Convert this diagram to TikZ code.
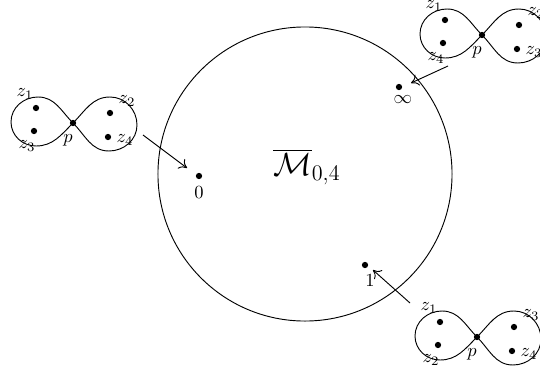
\documentclass[tikz,border=0pt]{standalone}
\usetikzlibrary{calc,arrows.meta}
\tikzset{
  pt/.style={circle,fill=black,inner sep=0pt,minimum size=3.4pt},
  lab/.style={inner sep=0pt},
  loop8/.style={line width=0.5pt},
  pointer/.style={-{To[length=4pt,width=6.5pt]},line width=0.5pt},
}
\newcommand\eightfig[6]{%
  \begin{scope}[shift={#2}]
    \node[pt] (#1p) at (0,0) {};
    \draw[loop8] (0,0) to[out=135,in=0] (-35,-26) to[out=180,in=90] (-62,-1)
      to[out=-90,in=180] (-37,23) to[out=0,in=-135] (0,0)
      to[out=45,in=180] (37,-26) to[out=0,in=90] (64,2)
      to[out=-90,in=0] (36,28) to[out=180,in=-45] (0,0);
    \node[pt] (#1d1) at (-37,-15) {};
    \node[pt] (#1d2) at (-39,8) {};
    \node[pt] (#1d3) at (37,-10) {};
    \node[pt] (#1d4) at (35,14) {};
    \node[lab] (#1l1) at (-48,-29) {$#3$};
    \node[lab] (#1l2) at (-46,23) {$#4$};
    \node[lab] (#1lp) at (-5,17) {$p$};
    \node[lab] (#1l3) at (54,-22) {$#5$};
    \node[lab] (#1l4) at (52,17) {$#6$};
  \end{scope}}
\begin{document}
\begin{tikzpicture}[x=0.54pt,y=-0.54pt]
\clip (0,0) rectangle (540,371);
\node[circle,draw,line width=0.5pt,minimum size=158.8pt,inner sep=0pt] (M) at (305,174) {};
\node[lab] (Mlab) at (307,167) {\LARGE$\overline{\mathcal{M}}_{0,4}$};
% points on the moduli space
\node[pt] (P0) at (199,176) {};
\node[lab] (L0) at (199,193) {$0$};
\node[pt] (Pinf) at (399,87) {};
\node[lab] (Linf) at (403,100) {$\infty$};
\node[pt] (P1) at (365,265) {};
\node[lab] (L1) at (370,281) {$1$};
% figure eights
\eightfig{A}{(73,123)}{z_1}{z_3}{z_2}{z_4}
\eightfig{B}{(482,35)}{z_1}{z_4}{z_2}{z_3}
\eightfig{C}{(477,337)}{z_1}{z_2}{z_3}{z_4}
% arrows
\coordinate (a0) at (143,135);
\coordinate (b0) at (187,168);
\coordinate (a1) at (448,66);
\coordinate (b1) at (411,83);
\coordinate (a2) at (410,303);
\coordinate (b2) at (373,270);
\draw[pointer] (a0) -- (b0);
\draw[pointer] (a1) -- (b1);
\draw[pointer] (a2) -- (b2);
\end{tikzpicture}
\end{document}
